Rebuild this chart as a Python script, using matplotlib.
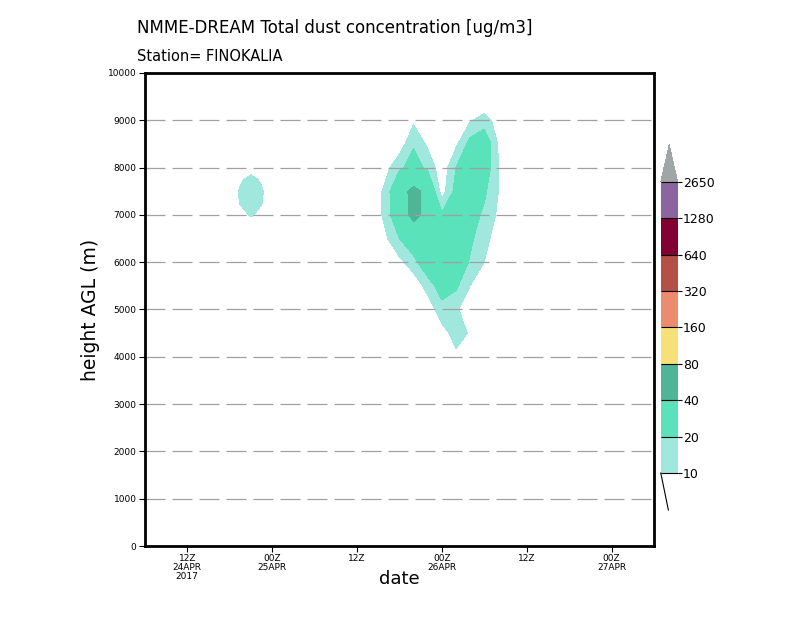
import matplotlib
matplotlib.use("Agg")

import numpy as np
import matplotlib.pyplot as plt
from matplotlib.colors import ListedColormap, BoundaryNorm

# time axis: hours since 24APR2017 06Z
hours_main = [32, 34, 36, 38, 40, 42, 44, 46, 48, 50, 52]
heights_main = [3500, 4000, 4500, 5000, 5500, 6000, 6500, 7000, 7500, 8000, 8500, 9000, 9500]
# dust concentration [ug/m3], rows = heights_main, cols = hours_main
dust_main = [
    [0, 0, 0, 0, 0, 0, 0, 0, 0, 0, 0],
    [0, 0, 0, 0, 0, 0, 8, 6, 0, 0, 0],
    [0, 0, 0, 0, 0, 6, 14, 9, 0, 0, 0],
    [0, 0, 0, 0, 4, 16, 12, 2, 0, 0, 0],
    [0, 0, 0, 3, 14, 26, 22, 10, 2, 0, 0],
    [0, 0, 7, 16, 30, 30, 28, 19, 10, 2, 0],
    [0, 8, 20, 30, 30, 27, 26, 22, 14, 4, 0],
    [0, 13, 32, 44, 36, 22, 26, 25, 18, 8, 0],
    [0, 13, 34, 44, 36, 5, 24, 26, 22, 10, 0],
    [0, 6, 18, 24, 18, 3, 20, 26, 28, 10, 0],
    [0, 0, 4, 19, 8, 2, 8, 24, 30, 9, 0],
    [0, 0, 0, 8, 3, 0, 3, 9, 14, 6, 0],
    [0, 0, 0, 0, 0, 0, 0, 0, 0, 0, 0],
]

hours_small = [12, 13.5, 15, 16.5, 18]
heights_small = [6750, 7000, 7250, 7500, 7750, 8000]
dust_small = [
    [0, 0, 0, 0, 0],
    [0, 4, 12, 5, 0],
    [0, 11, 16, 11, 0],
    [0, 12, 17, 12, 0],
    [0, 8, 14, 8, 0],
    [0, 0, 4, 0, 0],
]

levels = [10, 20, 40, 80, 160, 320, 640, 1280, 2650]
colors = ["#a0e8de", "#5ae2ba", "#50b496", "#f5e178", "#eb8c6e",
          "#b45046", "#820032", "#8c64a0"]
over_color = "#a0a5a5"

xtick_pos = [6, 18, 30, 42, 54, 66]
xtick_labels = ["12Z\n24APR\n2017", "00Z\n25APR", "12Z", "00Z\n26APR", "12Z", "00Z\n27APR"]
ytick_pos = [0, 1000, 2000, 3000, 4000, 5000, 6000, 7000, 8000, 9000, 10000]

cmap = ListedColormap(colors)
cmap.set_over(over_color)
cmap.set_under("white")
norm = BoundaryNorm(levels, cmap.N)

fig = plt.figure(figsize=(8, 6.18), dpi=100)
ax = fig.add_axes([0.181, 0.1165, 0.6365, 0.7654])

for h, z, d in [(hours_main, heights_main, dust_main),
                (hours_small, heights_small, dust_small)]:
    ax.contourf(h, z, np.array(d, dtype=float), levels=levels,
                cmap=cmap, norm=norm, extend="max", zorder=1)

for y in ytick_pos[1:-1]:
    ax.axhline(y, color="#a0a0a0", lw=0.9, dashes=(16, 5.6), zorder=2)

ax.set_xlim(0, 72)
ax.set_ylim(0, 10000)
ax.set_xticks(xtick_pos)
ax.set_xticklabels(xtick_labels, fontsize=6.5, linespacing=0.95)
ax.set_yticks(ytick_pos)
ax.set_yticklabels([str(v) for v in ytick_pos], fontsize=6.5)
ax.tick_params(direction="out", length=4, width=0.8, pad=2)
for s in ax.spines.values():
    s.set_linewidth(2.0)

ax.set_xlabel("date", fontsize=13)
ax.xaxis.set_label_coords(0.5, -0.05)
ax.set_ylabel("height AGL (m)", fontsize=13.5)
ax.yaxis.set_label_coords(-0.088, 0.5)

fig.text(0.171, 0.955, "NMME-DREAM Total dust concentration [ug/m3]",
         fontsize=12, va="center", ha="left")
fig.text(0.171, 0.908, "Station= FINOKALIA", fontsize=10.5, va="center", ha="left")

cax = fig.add_axes([0.826, 0.1748, 0.021, 0.5906])
sm = plt.cm.ScalarMappable(norm=norm, cmap=cmap)
cb = fig.colorbar(sm, cax=cax, extend="both", extendfrac=0.127,
                  drawedges=True, ticks=levels)
cb.outline.set_visible(False)
cb.dividers.set_color("black")
cb.dividers.set_linewidth(0.8)
cax.tick_params(length=3, width=0.8, direction="out", labelsize=9, pad=1)
cax.set_yticklabels([str(v) for v in levels])
cax.plot([0.0, 0.45], [0.0, -0.127], color="black", lw=0.8,
         transform=cax.transAxes, clip_on=False)

fig.savefig("out.png", dpi=100)
